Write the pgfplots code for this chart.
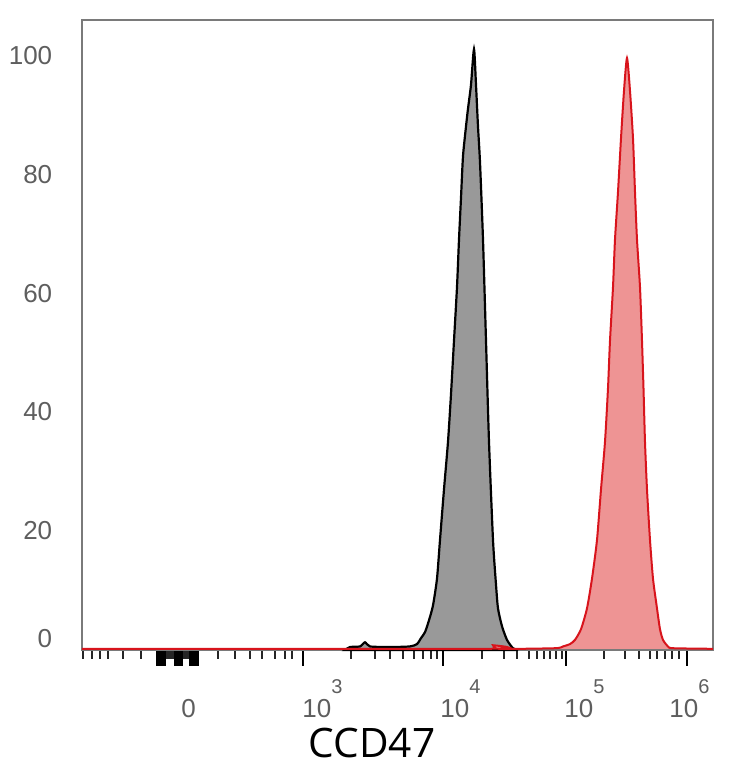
\documentclass[border=0pt]{standalone}
\usepackage{pgfplots}
\pgfplotsset{compat=1.18}
\usepackage{fontspec}
\setmainfont{Liberation Sans}
\newfontfamily\labelfont{Open Sans}
\definecolor{framegray}{HTML}{7A7A7A}
\definecolor{labgray}{HTML}{5E5E5E}
\definecolor{fillgray}{HTML}{999999}
\definecolor{redline}{HTML}{D8141C}
\definecolor{redfill}{HTML}{EE9494}
\pgfplotstableread{
x y
345 0
350 0.5
360 0.6
365 1.3
370 0.6
390 0.5
410 0.6
417 1
421 2
425 3
429 5
433 7.5
437 12
440 18.5
444 27
448 35
451 43
454 52
457 61
459 69
461 76
463 83
466 88
468 91
471 95
474 101
476 95
478 88
480 82
483 69
486 52
489 35
493 18.5
496 11
498 7
502 4
507 1.7
513 0.3
518 0
}\graytab
\pgfplotstableread{
x y
82 0.2
487 0.2
493 0.8
499 0.2
555 0.3
563 0.6
570 1
575 1.7
581 3.5
587 7
592 12
597 18.5
601 27
605 35
608 44
610 52
613 61
615 69
618 77
621 86
624 94
627 99.5
630 94
633 86
635 77
637 69
640 61
642 52
643.5 44
645 35
647 27
650 18.5
653 12
657 7
660 3.5
663 1.7
668 0.6
673 0.3
713 0.2
}\redtab
\begin{document}
\begin{tikzpicture}
\useasboundingbox (0,0) rectangle (367pt,384pt);
\begin{axis}[
  at={(41pt,59pt)}, anchor=south west,
  scale only axis, width=315.5pt, height=315pt,
  xmin=82, xmax=713, ymin=0, ymax=105.9,
  axis line style={framegray, line width=1pt},
  xtick pos=left, ytick pos=left,
  tick align=outside,
  /pgf/number format/assume math mode=true,
  xtick={157,158,...,165,175,176,...,182,190,191,...,198,303,443,566,687},
  xticklabels={},
  minor xtick={83,92,100,108,123,141,157,158,...,198,218,235,250,262,275,285,292,351,375,390,403,414,423,431,437,482,504,517,529,537,544,550,556,562,604,625,639,650,657,665,672,679},
  major tick length=8pt, minor tick length=4.5pt,
  xtick style={black},
  every major x tick/.style={line width=1.4pt, black},
  every minor x tick/.style={line width=0.55pt, black!85},
  extra x ticks={181,302,440,564,669},
  extra x tick labels={0, 10\raisebox{12pt}{\fontsize{10}{11}\selectfont 3}, 10\raisebox{12pt}{\fontsize{10}{11}\selectfont 4}, 10\raisebox{12pt}{\fontsize{10}{11}\selectfont 5}, 10\raisebox{12pt}{\fontsize{10}{11}\selectfont 6}},
  extra x tick style={major tick length=0pt, every major x tick/.style={draw=none}},
  xticklabel style={anchor=base west, inner sep=0pt, yshift=-33.5pt, font=\fontsize{13}{15}\selectfont, text=labgray},
  ytick={20,40,60,80,100},
  extra y ticks={1.85},
  extra y tick labels={0},
  ytick style={draw=none},
  extra y tick style={ytick style={draw=none}},
  yticklabel style={anchor=east, inner sep=0pt, xshift=-6.7pt, font=\fontsize{13}{15}\selectfont, text=labgray},
  xlabel={CCD47},
  xlabel style={at={(axis description cs:0.4596,-0.1714)}, anchor=base, font=\labelfont\fontsize{20.3}{23}\selectfont, text=black},
  clip=false,
]
\addplot[draw=black, line width=1.1pt, fill=fillgray, smooth, tension=0.4] table[x=x,y=y] {\graytab} -- cycle;
\addplot[draw=redline, line width=1pt, fill=redfill, smooth, tension=0.4] table[x=x,y=y] {\redtab};
\end{axis}
\end{tikzpicture}
\end{document}
